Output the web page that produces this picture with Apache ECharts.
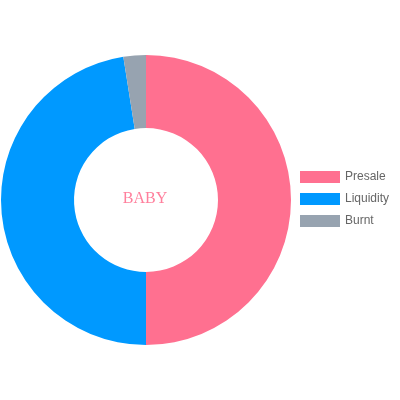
<!DOCTYPE html>
<html>
<head>
<meta charset="utf-8">
<script src="https://cdn.jsdelivr.net/npm/echarts@6/dist/echarts.min.js"></script>
<style>
  html, body { margin: 0; padding: 0; background: #fff; }
  #chart { width: 400px; height: 400px; }
</style>
</head>
<body>
<div id="chart"></div>
<script>
var labels = ['Presale', 'Liquidity', 'Burnt'];
var values = [50, 47.5, 2.5];
var colors = ['#ff7090', '#0099ff', '#97a3b0'];
var centerText = 'BABY';

var myChart = echarts.init(document.getElementById('chart'));

var option = {
    animation: false,
    color: colors,
    title: {
        text: centerText,
        left: 145,
        top: 191,
        padding: 0,
        textAlign: 'center',
        textStyle: {
            fontFamily: 'Liberation Serif',
            fontWeight: 'normal',
            fontSize: 16,
            color: '#ff7f9c'
        }
    },
    legend: {
        orient: 'vertical',
        left: 300,
        top: 171,
        padding: 0,
        itemWidth: 40,
        itemHeight: 12,
        itemGap: 10,
        icon: 'rect',
        data: labels,
        textStyle: {
            fontFamily: 'Liberation Sans',
            fontSize: 12,
            color: '#666'
        }
    },
    series: [{
        type: 'pie',
        center: [146, 200],
        radius: [72, 145],
        startAngle: 90,
        clockwise: true,
        label: { show: false },
        labelLine: { show: false },
        emphasis: { disabled: true },
        data: labels.map(function (name, i) {
            return { name: name, value: values[i] };
        })
    }]
};

myChart.setOption(option);
</script>
</body>
</html>
